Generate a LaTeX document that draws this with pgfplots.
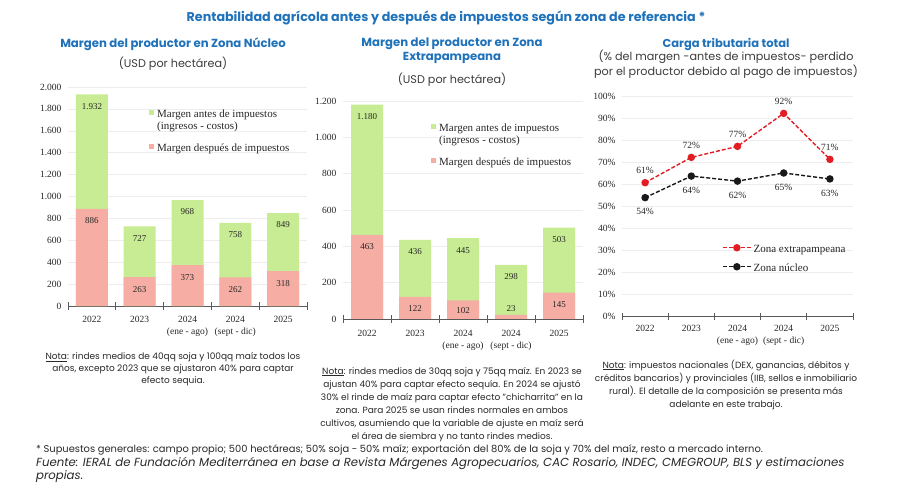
\documentclass[border=0pt]{standalone}
\usepackage{pgfplots}
\pgfplotsset{compat=1.18}
\usepackage{fontspec}
\setmainfont{Poppins}
\newfontfamily\chartfont{Liberation Serif}
\definecolor{ctitle}{RGB}{31,114,186}
\definecolor{cgreen}{RGB}{199,236,148}
\definecolor{cpink}{RGB}{246,174,164}
\definecolor{cred}{RGB}{226,30,36}
\definecolor{csub}{RGB}{60,60,60}
\definecolor{cnote}{RGB}{40,40,40}

\pgfplotsset{
  panel/.style={
    scale only axis, anchor=south west,
    xmin=-0.5, xmax=4.5, ymin=0,
    axis x line*=bottom, axis y line*=left,
    y axis line style={draw=none},
    x axis line style={draw=black!65, line width=0.8pt},
    xtick={0,...,4}, xticklabels={2022,2023,{2024\\(ene - ago)},{2024\\(sept - dic)},2025},
    minor xtick={-0.5,0.5,...,4.5},
    major x tick style={draw=none},
    minor x tick style={draw=black!65, line width=0.7pt},
    major tick length=0pt, minor tick length=7pt, tick align=center,
    ytick style={draw=none},
    ymajorgrids, grid style={draw=black!7, line width=0.5pt},
    ticklabel style={font=\chartfont\fontsize{9.5}{12}\selectfont, text=black!85},
    xticklabel style={align=center, anchor=north},
    yticklabel style={xshift=-3pt},
    /pgf/number format/1000 sep={.},
    /pgf/number format/assume math mode=true,
    clip=false,
  },
  barleg/.style={
    legend cell align=left,
    legend style={draw=none, fill=none, font=\chartfont\fontsize{11}{11}\selectfont, text=black!85, inner sep=0pt, row sep=0pt, column sep=3pt,
      nodes={inner sep=0pt, text height=8pt, text depth=3.3pt}},
    legend image code/.code={\fill[##1] (0pt,0pt) rectangle (5pt,5pt);},
  },
  lineleg/.style={
    legend cell align=left,
    legend style={draw=none, fill=none, font=\chartfont\fontsize{11}{11}\selectfont, text=black!85, inner sep=0pt, row sep=7.7pt, column sep=2pt,
      nodes={inner sep=0pt, text height=8pt, text depth=3.3pt}},
    legend image code/.code={\draw[mark repeat=2, mark phase=2, ##1] plot coordinates {(0pt,2.6pt) (14pt,2.6pt) (28pt,2.6pt)};},
  },
  vlabbase/.style={nodes near coords, nodes near coords style={anchor=center, font=\chartfont\fontsize{9}{10}\selectfont, text=black!85}},
  vlab/.style={vlabbase, nodes near coords style={yshift=-12pt}},
}

\begin{document}
\begin{tikzpicture}[x=1pt,y=1pt]
\path[use as bounding box] (0,0) rectangle (900,496);

% ---------- titles ----------
\node[font=\bfseries\fontsize{12.7}{14}\selectfont, text=ctitle] at (446,478) {Rentabilidad agrícola antes y después de impuestos según zona de referencia *};

\node[font=\bfseries\fontsize{11.7}{14}\selectfont, text=ctitle] at (173,452) {Margen del productor en Zona Núcleo};
\node[font=\fontsize{11.2}{13}\selectfont, text=csub] at (173,432) {(USD por hectárea)};

\node[font=\bfseries\fontsize{11.7}{14}\selectfont, text=ctitle, align=center] at (452,445) {Margen del productor en Zona\\Extrapampeana};
\node[font=\fontsize{11.2}{13}\selectfont, text=csub] at (452,416) {(USD por hectárea)};

\node[font=\bfseries\fontsize{11.5}{14}\selectfont, text=ctitle] at (726,452) {Carga tributaria total};
\node[font=\fontsize{11.2}{15}\selectfont, text=csub, align=center] at (726,431.5) {(\% del margen -antes de impuestos- perdido\\por el productor debido al pago de impuestos)};

% ---------- panel 1 ----------
\begin{axis}[panel, barleg, at={(68pt,190pt)}, width=239pt, height=219pt,
  ymax=2000, ytick={0,200,...,2000},
  xticklabel style={yshift=-7pt},
  legend style={at={(axis cs:1.195,1794)}, anchor=north west}]
\addplot[ybar, bar width=32pt, bar shift=0pt, fill=cgreen, draw=none, vlab] coordinates {(0,1932) (1,727) (2,968) (3,758) (4,849)};
\addlegendentry{Margen antes de impuestos}
\addlegendimage{empty legend}
\addlegendentry{(ingresos - costos)}
\addlegendimage{empty legend}
\addlegendentry{\phantom{X}}
\addplot[ybar, bar width=32pt, bar shift=0pt, fill=cpink, draw=none, vlab] coordinates {(0,886) (1,263) (2,373) (3,262) (4,318)};
\addlegendentry{Margen después de impuestos}
\end{axis}

% ---------- panel 2 ----------
\begin{axis}[panel, barleg, at={(343pt,177pt)}, width=240pt, height=218pt,
  ymax=1200, ytick={0,200,...,1200},
  xticklabel style={yshift=-8pt},
  legend style={at={(axis cs:1.333,1076)}, anchor=north west}]
\addplot[ybar, bar width=32pt, bar shift=0pt, fill=cgreen, draw=none, vlab] coordinates {(0,1180) (1,436) (2,445) (3,298) (4,503)};
\addlegendentry{Margen antes de impuestos}
\addlegendimage{empty legend}
\addlegendentry{(ingresos - costos)}
\addlegendimage{empty legend}
\addlegendentry{\phantom{X}}
\addplot[ybar, bar width=32pt, bar shift=0pt, fill=cpink, draw=none, vlabbase,
  visualization depends on={\thisrow{dy} \as \dy},
  nodes near coords style={yshift=\dy pt}] table[x=x, y=y] {
x y dy
0 463 -12
1 122 -12
2 102 -10
3 23 6
4 145 -12
};
\addlegendentry{Margen después de impuestos}
\end{axis}

% ---------- panel 3 ----------
\begin{axis}[panel, lineleg, at={(622pt,180pt)}, width=231pt, height=220pt,
  ymax=100, ytick={0,10,...,100},
  yticklabel={\pgfmathprintnumber{\tick}\%},
  xticklabel style={yshift=-6pt},
  legend style={at={(axis cs:1.664,32.5)}, anchor=north west}]
\addplot[color=cred, line width=1.4pt, dash pattern=on 4pt off 2pt, mark=*, mark size=3pt, mark options={solid, fill=cred},
  point meta=explicit symbolic, nodes near coords={\pgfplotspointmeta\%},
  nodes near coords style={anchor=center, yshift=12pt, font=\chartfont\fontsize{9.5}{10}\selectfont, text=black!85}]
  table[x=x, y=y, meta=lab] {
x y lab
0 60.6 61
1 72.1 72
2 77.1 77
3 92.1 92
4 71.2 71
};
\addlegendentry{Zona extrapampeana}
\addplot[color=black!90, line width=1.4pt, dash pattern=on 4pt off 2pt, mark=*, mark size=3pt, mark options={solid, fill=black!90},
  point meta=explicit symbolic, nodes near coords={\pgfplotspointmeta\%},
  nodes near coords style={anchor=center, yshift=-14pt, font=\chartfont\fontsize{9.5}{10}\selectfont, text=black!85}]
  table[x=x, y=y, meta=lab] {
x y lab
0 53.8 54
1 63.6 64
2 61.3 62
3 65.0 65
4 62.3 63
};
\addlegendentry{Zona núcleo}
\end{axis}

% ---------- notes ----------
\node[font=\fontsize{9}{12}\selectfont, text=cnote, align=center] at (173,127) {\underline{Nota}: rindes medios de 40qq soja y 100qq maíz todos los\\años, excepto 2023 que se ajustaron 40\% para captar\\efecto sequia.};

\node[font=\fontsize{9}{13.1}\selectfont, text=cnote, align=center] at (452,91.5) {\underline{Nota}: rindes medios de 30qq soja y 75qq maíz. En 2023 se\\ajustan 40\% para captar efecto sequía. En 2024 se ajustó\\30\% el rinde de maíz para captar efecto "chicharrita" en la\\zona. Para 2025 se usan rindes normales en ambos\\cultivos, asumiendo que la variable de ajuste en maíz será\\el área de siembra y no tanto rindes medios.};

\node[font=\fontsize{9}{13}\selectfont, text=cnote, align=center] at (726,111.5) {\underline{Nota}: impuestos nacionales (DEX, ganancias, débitos y\\créditos bancarios) y provinciales (IIB, sellos e inmobiliario\\rural). El detalle de la composición se presenta más\\adelante en este trabajo.};

% ---------- footer ----------
\node[font=\fontsize{9.9}{10}\selectfont, text=cnote, anchor=west, inner sep=0pt] at (36,46) {* Supuestos generales: campo propio; 500 hectáreas; 50\% soja - 50\% maíz; exportación del 80\% de la soja y 70\% del maíz, resto a mercado interno.};
\node[font=\itshape\fontsize{11.7}{12}\selectfont, text=cnote, anchor=west, inner sep=0pt] at (36,33) {Fuente: IERAL de Fundación Mediterránea en base a Revista Márgenes Agropecuarios, CAC Rosario, INDEC, CMEGROUP, BLS y estimaciones};
\node[font=\itshape\fontsize{11.7}{12}\selectfont, text=cnote, anchor=west, inner sep=0pt] at (36,19) {propias.};
\end{tikzpicture}
\end{document}
